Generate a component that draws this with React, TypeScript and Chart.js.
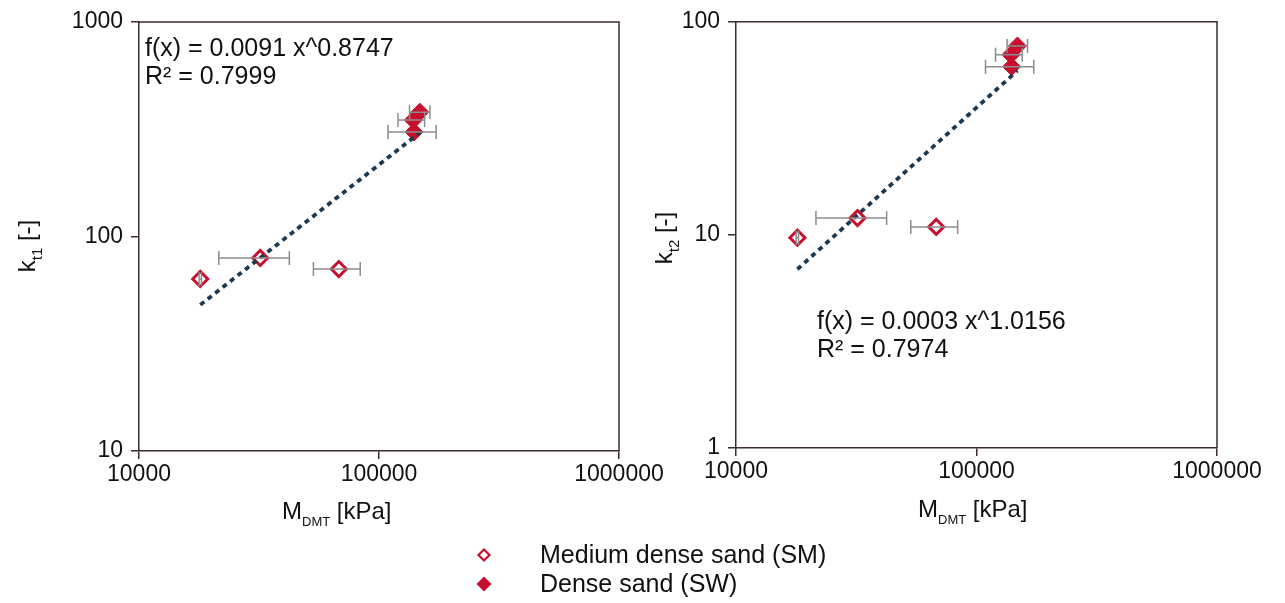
import React, { useEffect, useRef } from 'react';
import { Chart, registerables } from 'chart.js';

Chart.register(...registerables);

const W = 1285;
const H = 603;
const FONT = "'Liberation Sans', Arial, Helvetica, sans-serif";
const RED = '#c8102e';
const AXIS = '#3b2d2d';
const ERR = '#8c8c8c';
const FIT = '#1b3a52';
const TXT = '#111111';

// Tick labels
const xTicks = [10000, 100000, 1000000];
const yTicksLeft = [10, 100, 1000];
const yTicksRight = [1, 10, 100];

// Medium dense sand (SM)
const smM = [18000, 32000, 68000];
const smErrLow = [17800, 21500, 53300];
const smErrHigh = [18200, 42300, 83500];
const kt1SM = [63.4, 79.4, 70.5];
const kt2SM = [9.7, 12.0, 10.9];

// Dense sand (SW)
const swM = [148000, 139000, 140000];
const swErrLow = [134000, 120000, 109000];
const swErrHigh = [163000, 155000, 173000];
const kt1SW = [380, 349, 307];
const kt2SW = [77, 70, 61.6];

// Power-law trend lines (end points)
const fitX = [18000, 148000];
const kt1Fit = [48, 305];
const kt2Fit = [6.9, 59];

// Equation labels
const eqLeft = ['f(x) = 0.0091 x^0.8747', 'R² = 0.7999'];
const eqRight = ['f(x) = 0.0003 x^1.0156', 'R² = 0.7974'];

const legendLabels = ['Medium dense sand (SM)', 'Dense sand (SW)'];

type Part = [string, boolean];

function partsWidth(ctx: CanvasRenderingContext2D, parts: Part[], size: number, sub: number) {
  let w = 0;
  for (const [t, s] of parts) {
    ctx.font = `${s ? sub : size}px ${FONT}`;
    w += ctx.measureText(t).width;
  }
  return w;
}

function drawParts(ctx: CanvasRenderingContext2D, parts: Part[], x: number, y: number, size: number, sub: number) {
  let cx = x;
  ctx.textBaseline = 'alphabetic';
  ctx.textAlign = 'left';
  for (const [t, s] of parts) {
    ctx.font = `${s ? sub : size}px ${FONT}`;
    ctx.fillText(t, cx, s ? y + size * 0.28 : y);
    cx += ctx.measureText(t).width;
  }
}

function diamond(ctx: CanvasRenderingContext2D, x: number, y: number, r: number, filled: boolean, lw: number) {
  ctx.beginPath();
  ctx.moveTo(x - r, y);
  ctx.lineTo(x, y - r);
  ctx.lineTo(x + r, y);
  ctx.lineTo(x, y + r);
  ctx.closePath();
  if (filled) {
    ctx.fillStyle = RED;
    ctx.fill();
  } else {
    ctx.fillStyle = '#ffffff';
    ctx.fill();
    ctx.strokeStyle = RED;
    ctx.lineWidth = lw;
    ctx.stroke();
  }
}

interface PanelCfg {
  yMin: number;
  yMax: number;
  yTicks: number[];
  smY: number[];
  swY: number[];
  fitY: number[];
  yWidth: number;
  padding: { left: number; top: number; right: number; bottom: number };
  yTitle: { sub: string; x: number; y: number };
  xTitle: { x: number; y: number };
  eq: string[];
  eqPos: { x: number; y: number };
  legend: boolean;
}

function makeChart(canvas: HTMLCanvasElement, cfg: PanelCfg) {
  const overlay = {
    id: 'overlay',
    beforeDatasetsDraw(chart: any) {
      const { ctx, chartArea: a } = chart;
      ctx.save();
      ctx.strokeStyle = AXIS;
      ctx.lineWidth = 1.5;
      ctx.beginPath();
      ctx.moveTo(a.left, a.top);
      ctx.lineTo(a.right, a.top);
      ctx.lineTo(a.right, a.bottom);
      ctx.stroke();
      ctx.restore();
    },
    afterDatasetsDraw(chart: any) {
      const { ctx } = chart;
      const sx = chart.scales.x;
      const sy = chart.scales.y;
      ctx.save();
      ctx.strokeStyle = ERR;
      ctx.lineWidth = 1.5;
      const bars = (xs: number[], lo: number[], hi: number[], ys: number[]) => {
        for (let i = 0; i < xs.length; i++) {
          const y = sy.getPixelForValue(ys[i]);
          const x1 = sx.getPixelForValue(lo[i]);
          const x2 = sx.getPixelForValue(hi[i]);
          ctx.beginPath();
          ctx.moveTo(x1, y);
          ctx.lineTo(x2, y);
          ctx.moveTo(x1, y - 7);
          ctx.lineTo(x1, y + 7);
          ctx.moveTo(x2, y - 7);
          ctx.lineTo(x2, y + 7);
          ctx.stroke();
        }
      };
      bars(smM, smErrLow, smErrHigh, cfg.smY);
      bars(swM, swErrLow, swErrHigh, cfg.swY);
      ctx.restore();
    },
    afterDraw(chart: any) {
      const { ctx } = chart;
      ctx.save();
      ctx.fillStyle = TXT;
      // equation
      ctx.font = `25px ${FONT}`;
      ctx.textAlign = 'left';
      ctx.textBaseline = 'alphabetic';
      cfg.eq.forEach((t, i) => ctx.fillText(t, cfg.eqPos.x, cfg.eqPos.y + i * 28));
      // x title
      drawParts(ctx, [['M', false], ['DMT', true], [' [kPa]', false]], cfg.xTitle.x, cfg.xTitle.y, 24, 13);
      // y title (rotated)
      const yParts: Part[] = [['k', false], [cfg.yTitle.sub, true], [' [-]', false]];
      const tw = partsWidth(ctx, yParts, 24, 15);
      ctx.translate(cfg.yTitle.x, cfg.yTitle.y);
      ctx.rotate(-Math.PI / 2);
      drawParts(ctx, yParts, -tw / 2, 0, 24, 15);
      ctx.restore();

      if (cfg.legend) {
        ctx.save();
        diamond(ctx, 484, 555, 5.5, false, 2.2);
        diamond(ctx, 484, 584, 7.5, true, 0);
        ctx.fillStyle = TXT;
        ctx.font = `25px ${FONT}`;
        ctx.textAlign = 'left';
        ctx.textBaseline = 'alphabetic';
        ctx.fillText(legendLabels[0], 540, 563);
        ctx.fillText(legendLabels[1], 540, 592);
        ctx.restore();
      }
    },
  };

  const gridOpts = {
    display: true,
    drawOnChartArea: false,
    drawTicks: true,
    tickLength: 8,
    color: AXIS,
    lineWidth: 1.5,
  };

  return new Chart(canvas, {
    type: 'scatter',
    data: {
      datasets: [
        {
          label: 'fit',
          type: 'line',
          data: fitX.map((x, i) => ({ x, y: cfg.fitY[i] })),
          borderColor: FIT,
          borderWidth: 3.8,
          borderDash: [5, 4.5],
          pointRadius: 0,
          fill: false,
        } as any,
        {
          label: legendLabels[0],
          data: smM.map((x, i) => ({ x, y: cfg.smY[i] })),
          pointStyle: 'rectRot',
          pointRadius: 7.5,
          pointBorderWidth: 3,
          pointBorderColor: RED,
          pointBackgroundColor: '#ffffff',
          showLine: false,
        },
        {
          label: legendLabels[1],
          data: swM.map((x, i) => ({ x, y: cfg.swY[i] })),
          pointStyle: 'rectRot',
          pointRadius: 9,
          pointBorderWidth: 1,
          pointBorderColor: RED,
          pointBackgroundColor: RED,
          showLine: false,
        },
      ],
    },
    options: {
      responsive: false,
      animation: false,
      layout: { padding: cfg.padding },
      plugins: {
        legend: { display: false },
        title: { display: false },
        tooltip: { enabled: false },
      },
      scales: {
        x: {
          type: 'logarithmic',
          min: 10000,
          max: 1000000,
          afterBuildTicks: (s: any) => {
            s.ticks = xTicks.map((v) => ({ value: v }));
          },
          afterFit: (s: any) => {
            s.height = 60;
          },
          ticks: {
            autoSkip: false,
            maxRotation: 0,
            padding: 2,
            color: TXT,
            font: { size: 23, family: FONT },
            callback: (v: any) => String(v),
          },
          grid: gridOpts,
          border: { display: true, color: AXIS, width: 1.5 },
        },
        y: {
          type: 'logarithmic',
          min: cfg.yMin,
          max: cfg.yMax,
          afterBuildTicks: (s: any) => {
            s.ticks = cfg.yTicks.map((v) => ({ value: v }));
          },
          afterFit: (s: any) => {
            s.width = cfg.yWidth;
          },
          ticks: {
            autoSkip: false,
            padding: 8,
            color: TXT,
            font: { size: 23, family: FONT },
            callback: (v: any) => String(v),
          },
          grid: gridOpts,
          border: { display: true, color: AXIS, width: 1.5 },
        },
      },
    } as any,
    plugins: [overlay],
  });
}

export default function App() {
  const leftRef = useRef<HTMLCanvasElement>(null);
  const rightRef = useRef<HTMLCanvasElement>(null);

  useEffect(() => {
    const left = makeChart(leftRef.current!, {
      yMin: 10,
      yMax: 1000,
      yTicks: yTicksLeft,
      smY: kt1SM,
      swY: kt1SW,
      fitY: kt1Fit,
      yWidth: 139,
      padding: { left: 0, top: 22, right: W - 619, bottom: H - 451 - 60 },
      yTitle: { sub: 't1', x: 35, y: 246 },
      xTitle: { x: 282, y: 519 },
      eq: eqLeft,
      eqPos: { x: 145, y: 56 },
      legend: false,
    });
    const right = makeChart(rightRef.current!, {
      yMin: 1,
      yMax: 100,
      yTicks: yTicksRight,
      smY: kt2SM,
      swY: kt2SW,
      fitY: kt2Fit,
      yWidth: 100,
      padding: { left: 736 - 100, top: 20, right: W - 1217, bottom: H - 448 - 60 },
      yTitle: { sub: 't2', x: 672, y: 238 },
      xTitle: { x: 918, y: 517 },
      eq: eqRight,
      eqPos: { x: 817, y: 329 },
      legend: true,
    });
    return () => {
      left.destroy();
      right.destroy();
    };
  }, []);

  const cs: React.CSSProperties = { position: 'absolute', left: 0, top: 0, width: W, height: H };
  return (
    <div style={{ position: 'absolute', left: 0, top: 0, width: W, height: H, background: '#ffffff' }}>
      <canvas ref={leftRef} width={W} height={H} style={cs} />
      <canvas ref={rightRef} width={W} height={H} style={cs} />
    </div>
  );
}
